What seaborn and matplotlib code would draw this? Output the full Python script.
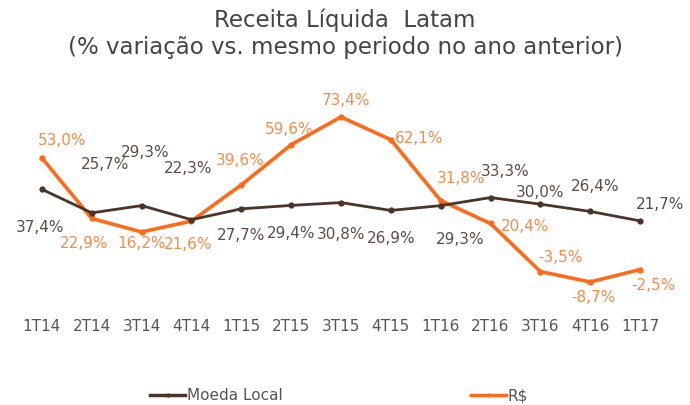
import matplotlib
matplotlib.use("Agg")
import matplotlib.pyplot as plt
import seaborn as sns
import pandas as pd
from matplotlib.lines import Line2D

quarters = ["1T14", "2T14", "3T14", "4T14", "1T15", "2T15", "3T15", "4T15",
            "1T16", "2T16", "3T16", "4T16", "1T17"]
moeda_local = [37.4, 25.7, 29.3, 22.3, 27.7, 29.4, 30.8, 26.9, 29.3, 33.3, 30.0, 26.4, 21.7]
reais = [53.0, 22.9, 16.2, 21.6, 39.6, 59.6, 73.4, 62.1, 31.8, 20.4, -3.5, -8.7, -2.5]
series_names = ["Moeda Local", "R$"]
title = "Receita Líquida  Latam\n(% variação vs. mesmo periodo no ano anterior)"

# label offsets in pixels (dx, dy) relative to the point
off_ml = [(-2, -38), (13, 48), (4, 53), (-3, 51), (0, -27), (0, -28), (0, -32), (0, -28),
          (19, -34), (15, 26), (0, 12), (5, 25), (20, 16)]
off_rs = [(20, 17), (-8, -25), (0, -12), (-3, -23), (-1, 24), (-2, 15), (5, 16), (28, 1),
          (20, 22), (35, -3), (20, 14), (3, -16), (13, -16)]

plt.rcParams['font.family'] = ['DejaVu Sans']

BROWN = "#4B3428"
ORANGE = "#FF6A1A"
BROWN_TXT = "#5E4C44"
ORANGE_TXT = "#FA8A48"
GREY_TXT = "#555555"

df = pd.DataFrame({
    "x": list(range(len(quarters))) * 2,
    "v": moeda_local + reais,
    "s": [series_names[0]] * len(quarters) + [series_names[1]] * len(quarters),
})

fig = plt.figure(figsize=(6.9, 4.05), dpi=100)
ax = fig.add_axes([17 / 690, (405 - 304.7) / 405, 648 / 690, (304.7 - 83.6) / 405])
sns.lineplot(data=df, x="x", y="v", hue="s", palette=[BROWN, ORANGE], ax=ax,
             legend=False, sort=False)
lines = ax.get_lines()
for ln, lw in zip(lines[:2], [2.0, 2.6]):
    ln.set_linewidth(lw)
    ln.set_marker("o")
    ln.set_markersize(4.5)
    ln.set_markeredgewidth(0)
lines[1].set_zorder(3)
lines[0].set_zorder(4)

ax.set_xlim(-0.5, len(quarters) - 0.5)
ax.set_ylim(-20, 90)
ax.set_xticks(range(len(quarters)))
ax.set_xticklabels(quarters, fontsize=11, color=GREY_TXT)
ax.tick_params(axis="x", length=0, pad=10)
ax.set_yticks([])
ax.set_xlabel(""); ax.set_ylabel("")
for sp in ax.spines.values():
    sp.set_visible(False)

def fmt(v):
    return f"{v:.1f}%".replace(".", ",")

for i, v in enumerate(moeda_local):
    ax.annotate(fmt(v), (i, v), xytext=off_ml[i], textcoords="offset pixels",
                ha="center", va="center", fontsize=11, color=BROWN_TXT)
for i, v in enumerate(reais):
    ax.annotate(fmt(v), (i, v), xytext=off_rs[i], textcoords="offset pixels",
                ha="center", va="center", fontsize=11, color=ORANGE_TXT)

fig.text(0.5, 1 - 34 / 405, title, ha="center", va="center", fontsize=16.5,
         color="#444444", linespacing=1.2)

handles = [Line2D([], [], color=BROWN, lw=2.5, marker="o", markersize=3, markeredgewidth=0),
           Line2D([], [], color=ORANGE, lw=2.5, marker="o", markersize=3, markeredgewidth=0)]
fig.legend(handles, series_names, loc="center left", bbox_to_anchor=(150 / 690, 1 - 396 / 405),
           ncol=2, frameon=False, fontsize=11, handlelength=2.3, handletextpad=0.1,
           columnspacing=12.35, labelcolor=GREY_TXT, borderaxespad=0, borderpad=0)

fig.savefig("out.png", dpi=100)
